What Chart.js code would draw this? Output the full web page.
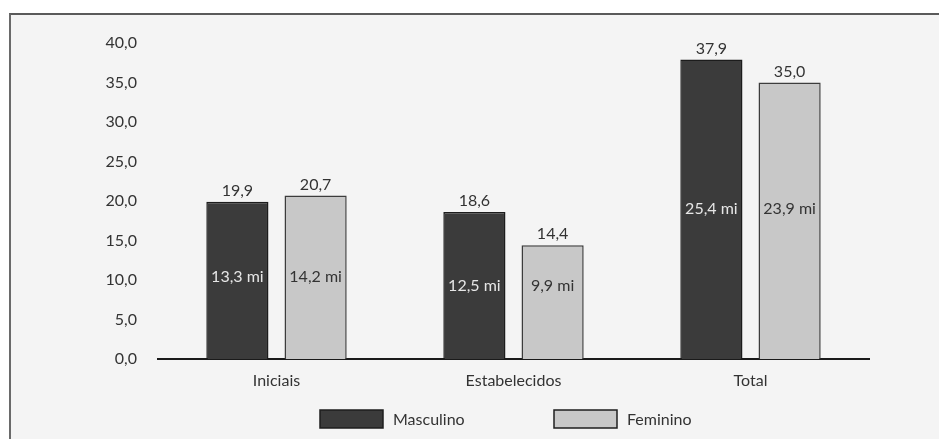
<!DOCTYPE html>
<html lang="pt">
<head>
<meta charset="utf-8">
<title>Empreendedores iniciais e estabelecidos por sexo</title>
<script src="https://cdn.jsdelivr.net/npm/chart.js@4.4.1/dist/chart.umd.min.js"></script>
<style>
  html, body { margin: 0; padding: 0; background: #ffffff; }
  body { width: 939px; height: 439px; position: relative; overflow: hidden; }
  #frame {
    position: absolute; left: 9px; top: 13px; width: 940px; height: 440px;
    background: #f4f4f4; border-top: 2px solid #5a5a5a; border-left: 2px solid #6a6a6a;
  }
  #wrap { position: absolute; left: 0; top: 0; width: 939px; height: 439px; }
</style>
</head>
<body>
<div id="frame"></div>
<div id="wrap"><canvas id="chart" width="939" height="439"></canvas></div>
<script>
// Taxas de empreendedorismo (%) e número de empreendedores (milhões)
const categories = ['Iniciais', 'Estabelecidos', 'Total'];
const seriesNames = ['Masculino', 'Feminino'];
const masculino = [19.9, 18.6, 37.9];
const feminino = [20.7, 14.4, 35.0];
const masculinoMilhoes = ['13,3 mi', '12,5 mi', '25,4 mi'];
const femininoMilhoes = ['14,2 mi', '9,9 mi', '23,9 mi'];
const yTicks = [0, 5, 10, 15, 20, 25, 30, 35, 40];

const FONT = 'Lato, "Liberation Sans", Arial, sans-serif';
const fmt = v => v.toFixed(1).replace('.', ',');

// Value above each bar and the count in millions inside it
const barLabels = {
  id: 'barLabels',
  afterDatasetsDraw(chart) {
    const ctx = chart.ctx;
    const y = chart.scales.y;
    const inner = [masculinoMilhoes, femininoMilhoes];
    const innerColor = ['#e6e6e6', '#333333'];
    ctx.save();
    ctx.font = '16px ' + FONT;
    ctx.textAlign = 'center';
    chart.data.datasets.forEach((ds, di) => {
      chart.getDatasetMeta(di).data.forEach((bar, i) => {
        ctx.fillStyle = '#333333';
        ctx.textBaseline = 'bottom';
        ctx.fillText(fmt(ds.data[i]), bar.x, bar.y - 3);
        const groupMax = Math.max(masculino[i], feminino[i]);
        ctx.fillStyle = innerColor[di];
        ctx.textBaseline = 'middle';
        ctx.fillText(inner[di][i], bar.x, y.getPixelForValue(groupMax / 2));
      });
    });
    ctx.restore();
  }
};

// Legend row with wide swatches below the axis
const swatchLegend = {
  id: 'swatchLegend',
  afterDraw(chart) {
    const ctx = chart.ctx;
    const items = [{ x: 320 }, { x: 554 }];
    ctx.save();
    ctx.font = '16px ' + FONT;
    ctx.textBaseline = 'middle';
    ctx.textAlign = 'left';
    chart.data.datasets.forEach((ds, di) => {
      const x = items[di].x, yTop = 410;
      ctx.fillStyle = ds.backgroundColor;
      ctx.fillRect(x, yTop, 63, 18);
      ctx.lineWidth = 1.5;
      ctx.strokeStyle = '#1e1e1e';
      ctx.strokeRect(x, yTop, 63, 18);
      ctx.fillStyle = '#333333';
      ctx.fillText(ds.label, x + 73, yTop + 10);
    });
    ctx.restore();
  }
};

new Chart(document.getElementById('chart'), {
  type: 'bar',
  data: {
    labels: categories,
    datasets: [
      { label: seriesNames[0], data: masculino, backgroundColor: '#3b3b3b', borderColor: '#1c1c1c', borderWidth: 1.5 },
      { label: seriesNames[1], data: feminino, backgroundColor: '#c8c8c8', borderColor: '#3c3c3c', borderWidth: 1.5 }
    ]
  },
  options: {
    responsive: false,
    animation: false,
    devicePixelRatio: 1,
    datasets: { bar: { barPercentage: 0.795, categoryPercentage: 0.66 } },
    layout: { padding: { left: 98, right: 70, top: 43, bottom: 0 } },
    plugins: { legend: { display: false }, tooltip: { enabled: false } },
    scales: {
      x: {
        grid: { display: false, drawTicks: false },
        border: { display: true, color: '#1a1a1a', width: 2 },
        ticks: { color: '#333333', font: { family: FONT, size: 16 }, padding: 12 },
        afterFit(s) { s.height = 80; }
      },
      y: {
        min: 0, max: 40,
        grid: { display: false, drawTicks: false },
        border: { display: false },
        afterBuildTicks(s) { s.ticks = yTicks.map(v => ({ value: v })); },
        ticks: { color: '#333333', font: { family: FONT, size: 16 }, padding: 21, callback: v => fmt(v) },
        afterFit(s) { s.width = 60; }
      }
    }
  },
  plugins: [barLabels, swatchLegend]
});
</script>
</body>
</html>
